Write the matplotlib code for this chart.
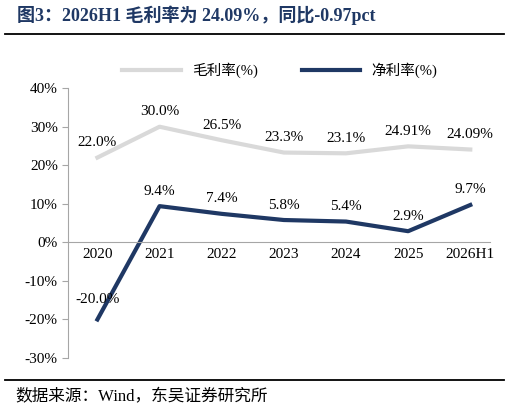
import matplotlib
matplotlib.use("Agg")
import matplotlib.pyplot as plt
from matplotlib.lines import Line2D

years = ["2020", "2021", "2022", "2023", "2024", "2025", "2026H1"]
gross = [22.0, 30.0, 26.5, 23.3, 23.1, 24.91, 24.09]
net = [-20.0, 9.4, 7.4, 5.8, 5.4, 2.9, 9.7]
gross_labels = ["22.0%", "30.0%", "26.5%", "23.3%", "23.1%", "24.91%", "24.09%"]
net_labels = ["-20.0%", "9.4%", "7.4%", "5.8%", "5.4%", "2.9%", "9.7%"]

fam = ["Liberation Serif", "Noto Sans CJK SC"]
plt.rcParams["font.family"] = fam

fig = plt.figure(figsize=(5.09, 4.12), dpi=100)
ax = fig.add_axes([0.134, 0.131, 0.829, 0.655])
x = list(range(len(years)))
gc = "#d9d9d9"
nc = "#1f3864"
ax.plot(x, gross, color=gc, lw=3)
ax.plot(x, net, color=nc, lw=3)
for i in x:
    ax.text(i, gross[i] + 2.2, gross_labels[i], ha="center", va="bottom", fontsize=11)
    if i == 0:
        ax.text(i, net[i] + 3.5, net_labels[i], ha="center", va="bottom", fontsize=11)
    else:
        ax.text(i, net[i] + 2.2, net_labels[i], ha="center", va="bottom", fontsize=11)
    ax.text(i, -1.5, years[i], ha="center", va="top", fontsize=11)

ax.set_xlim(-0.47, 6.32)
ax.set_ylim(-30, 40)
ax.set_yticks(range(-30, 41, 10))
ax.set_yticklabels([f"{v}%" for v in range(-30, 41, 10)], fontsize=11)
ax.set_xticks([])
ax.spines["top"].set_visible(False)
ax.spines["right"].set_visible(False)
ax.spines["bottom"].set_position(("data", 0))
ax.spines["bottom"].set_color("#a6a6a6")
ax.spines["left"].set_color("#a6a6a6")
ax.tick_params(axis="y", length=4, color="#a6a6a6")

handles = [Line2D([], [], color=gc, lw=3), Line2D([], [], color=nc, lw=3)]
fig.legend(handles, ["毛利率(%)", "净利率(%)"], loc="center", bbox_to_anchor=(0.55, 0.83),
           ncol=2, frameon=False, handlelength=4, columnspacing=3,
           prop={"family": fam, "size": 10.5})

fig.text(0.033, 0.963, "图3：2026H1 毛利率为 24.09%，同比-0.97pct", fontsize=13,
         fontweight="bold", color="#1f3864", va="center", ha="left")
fig.add_artist(Line2D([0.01, 0.99], [0.917, 0.917], color="black", lw=1.3))
fig.add_artist(Line2D([0.01, 0.99], [0.078, 0.078], color="black", lw=1.3))
fig.text(0.03, 0.035, "数据来源：Wind，东吴证券研究所", fontsize=12, va="center", ha="left")

fig.savefig("out.png", dpi=100)
